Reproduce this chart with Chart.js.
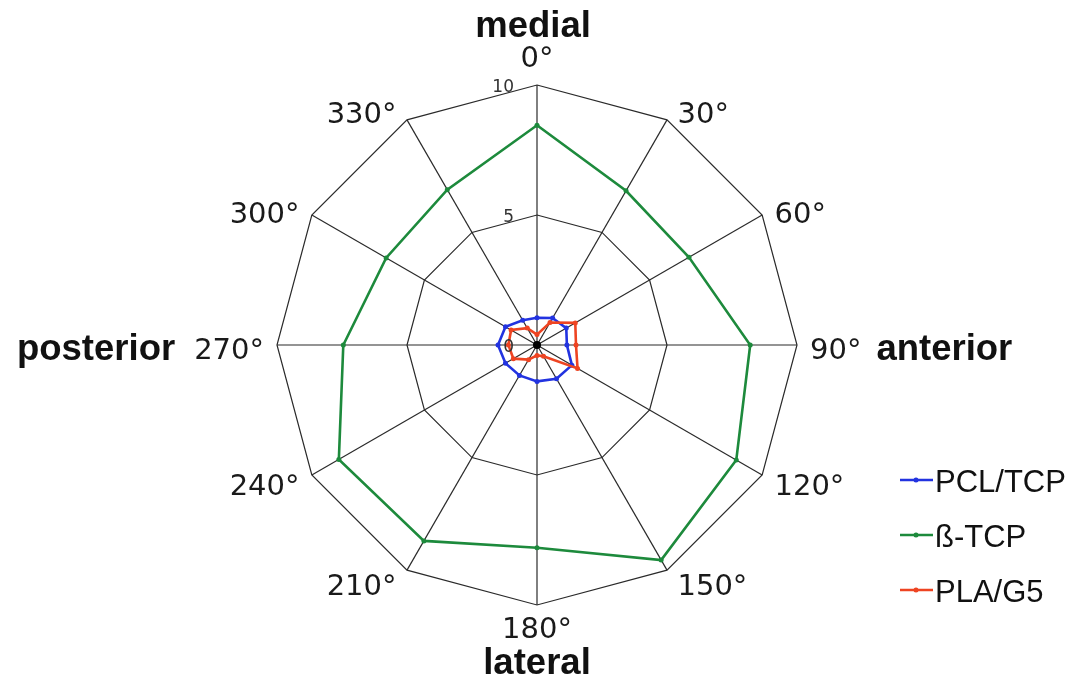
<!DOCTYPE html>
<html>
<head>
<meta charset="utf-8">
<script src="https://cdn.jsdelivr.net/npm/chart.js@4/dist/chart.umd.min.js"></script>
<style>
    body { margin: 0; background: #fff; }
</style>
</head>
<body>
<canvas id="radarChart" width="1071" height="693"></canvas>
<script>
// Angles around the sample, clockwise from medial
const angleLabels = ['0°', '30°', '60°', '90°', '120°', '150°', '180°', '210°', '240°', '270°', '300°', '330°'];
const scaleTicks = [0, 5, 10];

const pclTcp = [1.05, 1.2, 1.3, 1.15, 1.55, 1.5, 1.4, 1.35, 1.4, 1.5, 1.4, 1.1];
const betaTcp = [8.45, 6.85, 6.75, 8.2, 8.85, 9.55, 7.8, 8.7, 8.8, 7.45, 6.7, 6.9];
const plaG5 = [0.4, 1.0, 1.7, 1.5, 1.8, 0.5, 0.4, 0.65, 1.05, 1.1, 1.15, 0.75];

// Anatomical directions written beside four of the angles
const directionWords = { 0: 'medial', 3: 'anterior', 6: 'lateral', 9: 'posterior' };

const seriesNames = ['PCL/TCP', 'ß-TCP', 'PLA/G5'];
const seriesColors = ['#2233e0', '#1d8a3c', '#ee4422'];

const labelFont = '29px "DejaVu Sans"';
const boldFont = 'bold 36.5px "Liberation Sans"';

const radarLabels = {
    id: 'radarLabels',
    afterDatasetsDraw(chart) {
        const ctx = chart.ctx;
        const r = chart.scales.r;

        // dot where all the spokes meet
        ctx.save();
        ctx.fillStyle = '#000';
        ctx.beginPath();
        ctx.arc(r.xCenter, r.yCenter, 4, 0, Math.PI * 2);
        ctx.fill();
        ctx.restore();
    },
    afterDraw(chart) {
        const ctx = chart.ctx;
        const r = chart.scales.r;
        const cx = r.xCenter, cy = r.yCenter;
        ctx.save();

        // scale values next to the vertical spoke
        ctx.font = '17px "DejaVu Sans"';
        ctx.fillStyle = '#333';
        ctx.textAlign = 'right';
        ctx.textBaseline = 'alphabetic';
        scaleTicks.forEach(v => {
            const d = r.getDistanceFromCenterForValue(v);
            ctx.fillText(String(v), cx - 23, cy - d + 7);
        });

        // angle labels around the outer ring
        ctx.fillStyle = '#1a1a1a';
        angleLabels.forEach((lab, i) => {
            const p = r.getPointPosition(i, r.drawingArea);
            const th = i * Math.PI / 6;
            const s = Math.sin(th), c = Math.cos(th);
            let x, y;
            ctx.font = labelFont;
            if (i === 0) {
                ctx.textAlign = 'center';
                x = p.x; y = p.y - 18;
            } else if (i === 6) {
                ctx.textAlign = 'center';
                x = p.x; y = p.y + 33;
            } else {
                const off = 8 + 5 * Math.abs(s);
                ctx.textAlign = s > 0 ? 'left' : 'right';
                x = p.x + (s > 0 ? off : -off);
                y = p.y + 14 - c * 12;
            }
            ctx.fillText(lab, x, y);

            const word = directionWords[i];
            if (!word) return;
            const w = ctx.measureText(lab).width;
            ctx.font = boldFont;
            ctx.fillStyle = '#111';
            if (i === 0) ctx.fillText(word, x - 4, y - 30);
            else if (i === 6) ctx.fillText(word, x, y + 36);
            else if (i === 3) { ctx.textAlign = 'left'; ctx.fillText(word, x + w + 15, y + 1); }
            else { ctx.textAlign = 'right'; ctx.fillText(word, x - w - 19, y + 1); }
            ctx.fillStyle = '#1a1a1a';
        });

        // legend
        ctx.font = '31px "Liberation Sans"';
        ctx.textAlign = 'left';
        ctx.textBaseline = 'middle';
        seriesNames.forEach((name, k) => {
            const y = 480 + k * 55;
            ctx.strokeStyle = seriesColors[k];
            ctx.lineWidth = 2.5;
            ctx.beginPath();
            ctx.moveTo(900, y);
            ctx.lineTo(933, y);
            ctx.stroke();
            ctx.fillStyle = seriesColors[k];
            ctx.beginPath();
            ctx.arc(916, y, 2.5, 0, Math.PI * 2);
            ctx.fill();
            ctx.fillStyle = '#111';
            ctx.fillText(name, 935, y + 3);
        });
        ctx.restore();
    }
};

const seriesData = [pclTcp, betaTcp, plaG5];
const drawOrder = [1, 2, 0];

new Chart(document.getElementById('radarChart'), {
    type: 'radar',
    data: {
        labels: angleLabels,
        datasets: seriesNames.map((name, k) => ({
            label: name,
            data: seriesData[k],
            borderColor: seriesColors[k],
            backgroundColor: seriesColors[k],
            pointBackgroundColor: seriesColors[k],
            pointBorderWidth: 0,
            pointRadius: 2.5,
            borderWidth: 2.6,
            fill: false,
            tension: 0,
            order: drawOrder[k]
        }))
    },
    options: {
        responsive: false,
        animation: false,
        layout: {
            padding: { left: 277, right: 274, top: 85, bottom: 88 }
        },
        plugins: {
            legend: { display: false },
            tooltip: { enabled: false }
        },
        scales: {
            r: {
                min: 0,
                max: 10,
                ticks: { stepSize: 5, display: false },
                pointLabels: { display: false },
                grid: { color: '#2a2a2a', lineWidth: 1.2 },
                angleLines: { color: '#2a2a2a', lineWidth: 1.2 }
            }
        }
    },
    plugins: [radarLabels]
});
</script>
</body>
</html>
